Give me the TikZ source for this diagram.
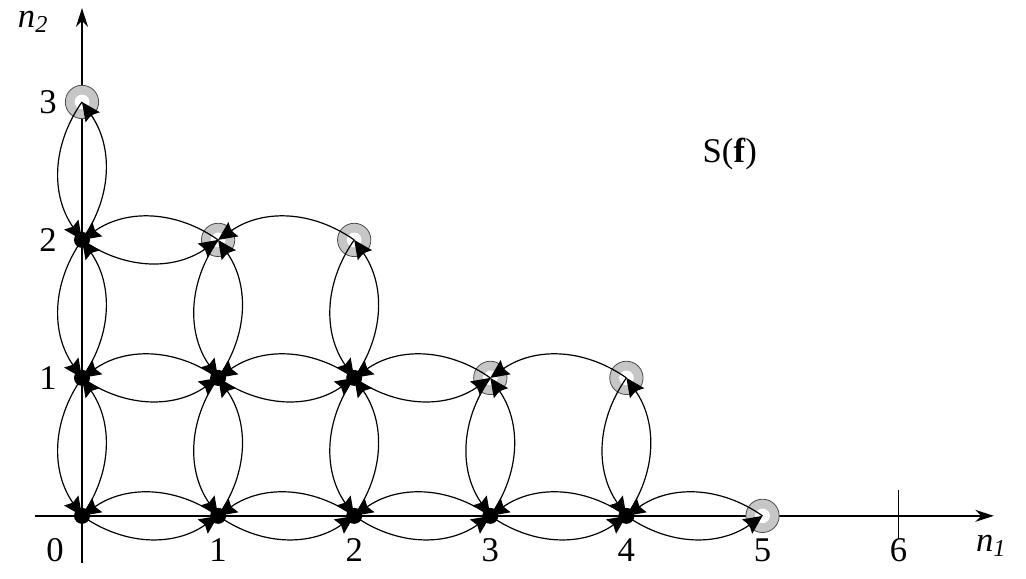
\documentclass[tikz,border=0pt]{standalone}
\usepackage{fontspec}
\setmainfont{Liberation Serif}
\usetikzlibrary{arrows.meta}

\tikzset{every picture/.style={line width=0.75pt}}

\begin{document}
\begin{tikzpicture}[
                x=102.1pt,
                y=103.5pt,
                every node/.style={text=black, font=\fontsize{26}{30}\selectfont},
                inner/.style={circle, fill=black, inner sep=0pt, minimum size=12pt},
                outer/.style={circle, fill=gray!45, draw=gray!60!black, line width=0.6pt, inner sep=0pt, minimum size=25pt,
                    path picture={\fill[white] (path picture bounding box.center) circle (5.5pt);}},
                flow/.style={line width=0.9pt, -{Stealth[length=14pt,width=13pt,inset=2pt]}, bend right=35},
                axis/.style={line width=1.3pt},
                line width=0.75pt
            ]
                \useasboundingbox (-0.6025,-0.4565) rectangle (6.936,3.739);

                \draw [axis, -{Stealth[length=14pt,width=9pt]}] (-0.345,0) -- (6.7,0);
                \draw [axis, -{Stealth[length=14pt,width=9pt]}] (0,-0.34) -- (0,3.68);
                \draw [axis] (6,0.19) -- (6,-0.17);

                \foreach \i/\j in {0/3, 1/2, 2/2, 3/1, 4/1, 5/0} {
                    \node [outer] (p-\i-\j) at (\i,\j) {};
                }
                \foreach \i/\j in {0/0, 1/0, 2/0, 3/0, 4/0, 0/1, 1/1, 2/1, 0/2} {
                    \coordinate (p-\i-\j) at (\i,\j);
                }

                \foreach \p in {0-0, 1-0, 2-0, 3-0, 4-0, 0-1, 1-1, 2-1, 0-2} {
                    \node [inner] at (p-\p) {};
                }

                \foreach \a/\b in {0-0/1-0, 1-0/2-0, 2-0/3-0, 3-0/4-0, 4-0/5-0, 0-1/1-1, 1-1/2-1, 2-1/3-1, 0-2/1-2,
                                   0-0/0-1, 0-1/0-2, 0-2/0-3, 1-0/1-1, 1-1/1-2, 2-0/2-1, 2-1/2-2, 3-0/3-1, 4-0/4-1} {
                    \draw [flow] (p-\a.center) to (p-\b.center);
                    \draw [flow] (p-\b.center) to (p-\a.center);
                }
                \draw [flow] (p-2-2.center) to (p-1-2.center);
                \draw [flow] (p-4-1.center) to (p-3-1.center);

                \node (x0) at (-0.198,-0.25) {0};
                \foreach \k in {1,...,6} {
                    \node (x\k) at (\k,-0.25) {\k};
                }
                \foreach \k in {1,2,3} {
                    \node (y\k) at (-0.25,\k) {\k};
                }
                \node (n1) at (6.68,-0.22) {\itshape n\textsubscript{1}};
                \node (n2) at (-0.36,3.58) {\itshape n\textsubscript{2}};
                \node (sf) at (4.76,2.62) {S(\textbf{f})};
            \end{tikzpicture}
\end{document}
